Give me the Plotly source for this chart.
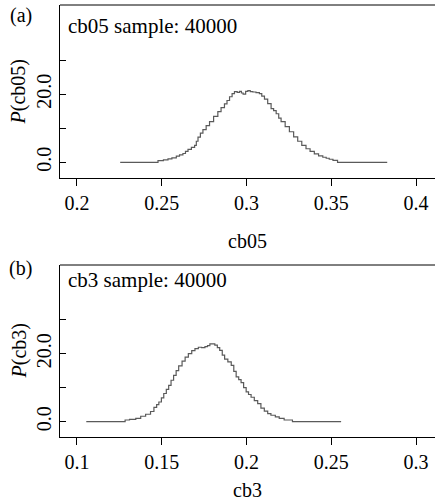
import plotly.graph_objects as go

# ---- data ----
cb05_x = [0.2255, 0.2478, 0.2510, 0.2537, 0.2560, 0.2586, 0.2605, 0.2625, 0.2640, 0.2655,
          0.2675, 0.2694, 0.2704, 0.2714, 0.2728, 0.2743, 0.2762, 0.2782, 0.2806, 0.2831,
          0.2850, 0.2870, 0.2885, 0.2900, 0.2915, 0.2929, 0.2945, 0.2959, 0.2970, 0.2980,
          0.2995, 0.3008, 0.3022, 0.3037, 0.3056, 0.3076, 0.3090, 0.3106, 0.3125, 0.3145,
          0.3160, 0.3175, 0.3190, 0.3204, 0.3228, 0.3253, 0.3278, 0.3302, 0.3326, 0.3351,
          0.3375, 0.3400, 0.3425, 0.3450, 0.3470, 0.3488, 0.3510, 0.3537, 0.3830]
cb05_p = [0.0, 0.5, 0.7, 1.0, 1.3, 1.8, 2.2, 2.6, 3.2, 3.8,
          4.4, 5.0, 6.2, 7.4, 8.6, 9.6, 10.8, 12.0, 13.5, 14.9,
          16.1, 17.2, 18.2, 19.3, 20.2, 20.8, 20.6, 20.9, 20.4, 20.1,
          20.9, 21.1, 20.8, 20.7, 20.5, 20.2, 19.5, 18.6, 17.3, 15.8,
          15.2, 14.3, 13.0, 12.0, 10.5, 9.0, 7.5, 6.2, 5.0, 4.0,
          3.2, 2.5, 1.9, 1.5, 1.2, 0.9, 0.6, 0.0, 0.0]

cb3_x = [0.1055, 0.1284, 0.1310, 0.1347, 0.1376, 0.1405, 0.1434, 0.1454, 0.1470, 0.1483,
         0.1498, 0.1512, 0.1527, 0.1541, 0.1555, 0.1570, 0.1585, 0.1600, 0.1620, 0.1638,
         0.1657, 0.1677, 0.1696, 0.1716, 0.1735, 0.1755, 0.1770, 0.1784, 0.1800, 0.1813,
         0.1828, 0.1842, 0.1857, 0.1871, 0.1890, 0.1910, 0.1925, 0.1939, 0.1954, 0.1968,
         0.1983, 0.1998, 0.2012, 0.2027, 0.2046, 0.2066, 0.2085, 0.2105, 0.2125, 0.2144,
         0.2170, 0.2193, 0.2222, 0.2271, 0.2558]
cb3_p = [0.0, 0.5, 0.7, 1.0, 1.6, 2.2, 3.0, 4.2, 5.0, 5.8,
         7.0, 8.3, 9.5, 10.7, 12.2, 13.6, 15.0, 16.4, 17.8, 19.0,
         20.0, 20.9, 21.5, 21.9, 21.8, 22.1, 22.4, 22.9, 22.9, 22.5,
         21.8, 21.0, 19.6, 18.4, 17.6, 16.6, 14.8, 13.2, 12.4, 11.5,
         10.0, 8.8, 8.0, 7.2, 6.2, 5.3, 4.0, 3.1, 2.4, 1.9,
         1.4, 1.0, 0.5, 0.0, 0.0]

x1_ticks = [0.2, 0.25, 0.3, 0.35, 0.4]
x1_labels = ["0.2", "0.25", "0.3", "0.35", "0.4"]
x2_ticks = [0.1, 0.15, 0.2, 0.25, 0.3]
x2_labels = ["0.1", "0.15", "0.2", "0.25", "0.3"]
y_ticks = [0, 10, 20, 30]
y_labels = ["0.0", "", "20.0", ""]

FONT = "Liberation Serif"
FS = 20
LINE = "#5a5a5a"

fig = go.Figure()
fig.add_trace(go.Scatter(x=cb05_x, y=cb05_p, mode="lines", line=dict(color=LINE, width=1.2, shape="hv"),
                         xaxis="x", yaxis="y", showlegend=False))
fig.add_trace(go.Scatter(x=cb3_x, y=cb3_p, mode="lines", line=dict(color=LINE, width=1.2, shape="hv"),
                         xaxis="x2", yaxis="y2", showlegend=False))

W, H = 435, 503
ml, mt, mb = 60, 5, 66
ph = H - mt - mb  # 432
pw = W - ml      # 375

def py(pix):
    return (H - mb - pix) / ph

def px(pix):
    return (pix - ml) / pw

xcommon = dict(showline=True, linecolor="black", linewidth=1, mirror=False, ticks="outside",
               ticklen=7, tickcolor="black", showgrid=False, zeroline=False,
               tickfont=dict(family=FONT, size=FS, color="black"))
ycommon = dict(showline=True, linecolor="black", linewidth=1, mirror=False, ticks="inside", ticklen=6,
               tickcolor="black", showgrid=False, zeroline=False, tickangle=-90,
               tickvals=y_ticks, ticktext=y_labels,
               tickfont=dict(family=FONT, size=FS, color="black"))

fig.update_layout(
    width=W, height=H,
    margin=dict(l=ml, r=0, t=mt, b=mb),
    paper_bgcolor="white", plot_bgcolor="white",
    font=dict(family=FONT, size=FS, color="black"),
    xaxis=dict(**xcommon, domain=[0, 1], range=[0.19, 0.19 + 376 / 1700], anchor="y",
               tickvals=x1_ticks, ticktext=x1_labels),
    yaxis=dict(**ycommon, domain=[py(178.3), 1], range=[-4.7, 46.3], anchor="x"),
    xaxis2=dict(**xcommon, domain=[0, 1], range=[0.09, 0.09 + 376 / 1700], anchor="y2",
                tickvals=x2_ticks, ticktext=x2_labels),
    yaxis2=dict(**ycommon, domain=[0, py(265)], range=[-4.5, 46.1], anchor="x2"),
)

# mask the right edge (panels are cut off at the right side in the reference), then top borders
for xr, yr in (("x domain", "y domain"), ("x2 domain", "y2 domain")):
    fig.add_shape(type="rect", xref=xr, yref=yr, x0=0.992, x1=1.02, y0=0.02, y1=1.02,
                  fillcolor="white", line=dict(width=0), layer="above")
    fig.add_shape(type="line", xref=xr, yref=yr, x0=0, x1=1.01, y0=1, y1=1,
                  line=dict(color="black", width=1), layer="above")

ann = [
    dict(text="(a)", x=px(20.5), y=py(15.5)),
    dict(text="(b)", x=px(20.5), y=py(268)),
    dict(text="<i>P</i>(cb05)", x=px(18.5), y=py(92), textangle=-90),
    dict(text="<i>P</i>(cb3)", x=px(18.5), y=py(351), textangle=-90),
    dict(text="cb05", x=px(247.5), y=py(241)),
    dict(text="cb3", x=px(247.5), y=py(490)),
]
for a in ann:
    fig.add_annotation(xref="paper", yref="paper", showarrow=False, xanchor="center", yanchor="middle",
                       font=dict(family=FONT, size=FS, color="black"), **a)
fig.add_annotation(xref="paper", yref="paper", showarrow=False, xanchor="left", yanchor="middle",
                   text="cb05 sample: 40000", x=px(66), y=py(26),
                   font=dict(family=FONT, size=21, color="black"))
fig.add_annotation(xref="paper", yref="paper", showarrow=False, xanchor="left", yanchor="middle",
                   text="cb3 sample: 40000", x=px(66), y=py(280),
                   font=dict(family=FONT, size=21, color="black"))

fig.write_html("out.html")
